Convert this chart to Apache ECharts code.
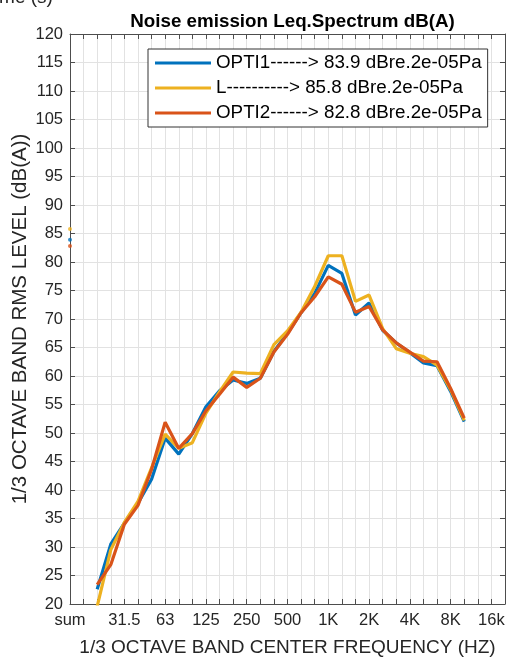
<!DOCTYPE html>
<html>
<head>
<meta charset="utf-8">
<script src="https://cdn.jsdelivr.net/npm/echarts@6/dist/echarts.min.js"></script>
<style>
html,body{margin:0;padding:0;background:#fff;}
#chart{width:510px;height:662px;}
</style>
</head>
<body>
<div id="chart"></div>
<script>
// 1/3 octave band categories (index 0 = overall sum)
const bands = ['sum','16','20','25','31.5','40','50','63','80','100','125','160','200','250','315','400','500','630','800','1K','1.25K','1.6K','2K','2.5K','3.15K','4K','5K','6.3K','8K','10K','12.5K','16k','20K'];
const tickLabels = ['sum','31.5','63','125','250','500','1K','2K','4K','8K','16k'];
const seriesNames = ['OPTI1','L','OPTI2'];
const sums = [83.9, 85.8, 82.8];
const firstBand = '20';
// band levels from 20 Hz to 10 kHz, dB(A)
const opti1 = [22.6, 30.5, 34.2, 37.7, 41.9, 49.1, 46.3, 49.9, 54.6, 57.4, 59.3, 58.7, 59.6, 64.3, 67.5, 71.1, 74.5, 79.4, 78.0, 70.7, 72.8, 68.0, 65.8, 64.1, 62.3, 61.8, 57.3, 52.0];
const lVals = [19.6, 29.5, 34.3, 38.0, 43.9, 49.8, 47.3, 48.3, 53.5, 57.2, 60.7, 60.5, 60.4, 65.5, 67.9, 71.2, 75.7, 81.1, 81.1, 73.1, 74.2, 68.3, 64.8, 64.0, 63.4, 61.9, 57.6, 52.2];
const opti2 = [23.4, 26.9, 34.0, 37.3, 43.6, 51.9, 47.3, 49.9, 53.9, 56.8, 59.8, 58.0, 59.6, 64.2, 67.3, 71.1, 73.9, 77.4, 76.1, 71.2, 72.2, 68.1, 65.8, 64.2, 62.6, 62.5, 57.8, 52.6];
const colors = ['#0072BD', '#EDB120', '#D95319'];

const allVals = [opti1, lVals, opti2];
const start = bands.indexOf(firstBand);
const labelOf = (i) => seriesNames[i] + '-'.repeat(11 - seriesNames[i].length) + '> ' + sums[i].toFixed(1) + ' dBre.2e-05Pa';
const legendNames = seriesNames.map((_, i) => labelOf(i));

function lineData(vals) {
  return vals.map((v, k) => [bands[start + k], v]);
}

const font = 'Liberation Sans, Arial, sans-serif';
const axisColor = '#4d4d4d';
const gridColor = '#e2e2e2';

const series = [];
allVals.forEach((vals, i) => {
  series.push({
    name: legendNames[i], type: 'line', data: lineData(vals),
    xAxisIndex: 0, yAxisIndex: 0,
    showSymbol: false, symbol: 'none',
    lineStyle: { color: colors[i], width: 3.2 },
    itemStyle: { color: colors[i] },
    clip: true, z: 3 + i, animation: false
  });
});
allVals.forEach((vals, i) => {
  series.push({
    name: legendNames[i], type: 'scatter', data: [[bands[0], sums[i]]],
    xAxisIndex: 0, yAxisIndex: 0,
    symbol: 'circle', symbolSize: 4, clip: false,
    itemStyle: { color: colors[i] }, z: 6, animation: false
  });
});

const chart = echarts.init(document.getElementById('chart'), null, { renderer: 'canvas' });
chart.setOption({
  animation: false,
  backgroundColor: '#fff',
  textStyle: { fontFamily: font },
  title: {
    text: 'Noise emission Leq.Spectrum dB(A)',
    left: 287.5, top: 7, textAlign: 'center',
    textStyle: { fontFamily: font, fontSize: 18.8, fontWeight: 'bold', color: '#000' }
  },
  graphic: [{
    type: 'text', left: -16, top: -12, silent: true,
    style: { text: 'Time (s)', font: '19px ' + font, fill: '#262626' }
  }],
  grid: { left: 70, top: 34, right: 5, bottom: 58, containLabel: false, outerBoundsMode: 'none' },
  legend: {
    data: legendNames, orient: 'vertical', left: 148, top: 49,
    icon: 'rect', itemWidth: 56, itemHeight: 3, itemGap: 5, itemTextGap: 5,
    padding: [4, 6, 4, 7],
    backgroundColor: '#fff', borderColor: '#333', borderWidth: 1,
    textStyle: { fontFamily: font, fontSize: 18.8, color: '#000', lineHeight: 20 }
  },
  xAxis: [{
    type: 'category', data: bands, boundaryGap: false, position: 'bottom',
    name: '1/3 OCTAVE BAND CENTER FREQUENCY (HZ)', nameLocation: 'middle', nameGap: 34,
    nameMoveOverlap: false,
    nameTextStyle: { fontFamily: font, fontSize: 19, color: '#262626' },
    axisLine: { show: true, lineStyle: { color: axisColor, width: 1 } },
    axisTick: { show: true, inside: true, length: 5, interval: 0, lineStyle: { color: axisColor } },
    axisLabel: { interval: (idx, val) => tickLabels.includes(val), fontFamily: font, fontSize: 16.5, color: '#262626', margin: 8 },
    splitLine: { show: true, interval: 0, lineStyle: { color: gridColor, width: 1 } }
  }, {
    type: 'category', data: bands, boundaryGap: false, position: 'top',
    axisLine: { show: true, lineStyle: { color: axisColor, width: 1 } },
    axisTick: { show: true, inside: true, length: 5, interval: 0, lineStyle: { color: axisColor } },
    axisLabel: { show: false }, splitLine: { show: false }
  }],
  yAxis: [{
    type: 'value', min: 20, max: 120, interval: 5, position: 'left',
    name: '1/3 OCTAVE BAND RMS LEVEL (dB(A))', nameLocation: 'middle', nameGap: 39,
    nameMoveOverlap: false,
    nameTextStyle: { fontFamily: font, fontSize: 20.5, color: '#262626' },
    axisLine: { show: true, lineStyle: { color: axisColor, width: 1 } },
    axisTick: { show: true, inside: true, length: 5, lineStyle: { color: axisColor } },
    axisLabel: { fontFamily: font, fontSize: 16.5, color: '#262626', margin: 7 },
    splitLine: { show: true, lineStyle: { color: gridColor, width: 1 } }
  }, {
    type: 'value', min: 20, max: 120, interval: 5, position: 'right',
    axisLine: { show: true, lineStyle: { color: axisColor, width: 1 } },
    axisTick: { show: true, inside: true, length: 5, lineStyle: { color: axisColor } },
    axisLabel: { show: false }, splitLine: { show: false }
  }],
  series: series
});
</script>
</body>
</html>
